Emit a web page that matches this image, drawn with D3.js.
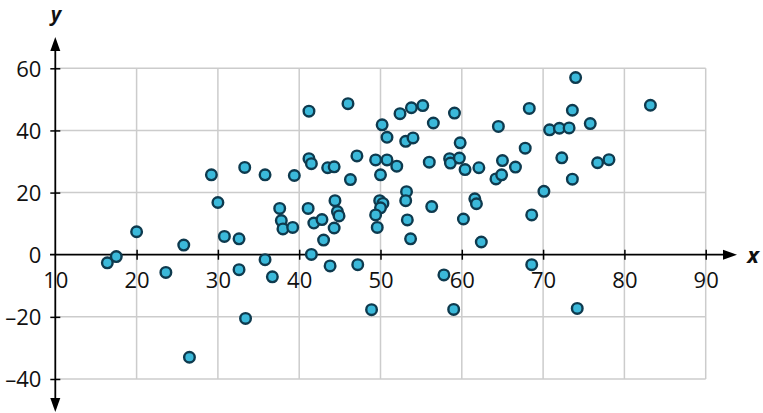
<!DOCTYPE html>
<html>
<head>
<meta charset="utf-8">
<script src="https://cdn.jsdelivr.net/npm/d3@7"></script>
<style>
  html, body { margin: 0; padding: 0; background: #fff; }
  svg { display: block; font-family: "Open Sans", "Noto Sans", sans-serif; }
</style>
</head>
<body>
<svg id="chart" width="763" height="413"></svg>
<script>
// ---- data ----
const xValues = [16.4,17.5,20.0,23.6,25.8,26.5,29.2,30.0,30.8,32.6,32.6,33.3,33.4,35.8,36.7,41.5,43.8,47.2,48.9,57.8,59.0,68.6,74.2,43.0,53.7,62.4,
  35.8,39.4,37.6,37.8,38.0,39.2,41.2,46.0,41.2,41.5,43.5,44.3,46.3,47.1,41.1,41.8,42.8,44.4,44.7,44.9,44.3,
  50.2,50.8,49.4,50.8,52.0,50.0,49.9,50.3,50.0,49.4,49.6,52.4,53.8,55.2,56.5,59.1,53.1,54.0,56.0,58.5,58.6,59.7,59.8,60.4,62.1,
  64.5,65.0,64.2,64.9,66.6,67.8,68.3,70.8,72.0,73.2,72.3,70.1,68.6,61.6,61.8,60.2,56.3,53.2,53.1,53.3,74.0,73.6,75.8,76.7,78.1,73.6,83.2];
const yValues = [-2.6,-0.6,7.4,-5.7,3.1,-33.0,25.7,16.8,5.9,5.1,-4.8,28.1,-20.5,-1.6,-7.1,0.1,-3.6,-3.2,-17.7,-6.5,-17.6,-3.2,-17.3,4.7,5.1,4.1,
  25.7,25.5,14.9,11.0,8.3,8.8,46.2,48.6,30.9,29.3,28.0,28.3,24.2,31.8,14.9,10.2,11.3,17.4,13.9,12.5,8.6,
  41.8,37.8,30.5,30.5,28.5,25.7,17.4,16.5,15.1,12.8,8.8,45.4,47.3,48.0,42.4,45.6,36.5,37.6,29.8,30.9,29.5,31.1,36.0,27.4,28.0,
  41.3,30.3,24.4,25.7,28.2,34.3,47.1,40.2,40.7,40.8,31.2,20.4,12.8,18.0,16.4,11.5,15.5,20.3,17.4,11.2,57.0,46.5,42.2,29.6,30.6,24.3,48.1];
const xTicks = [10,20,30,40,50,60,70,80,90];
const yTicks = [-40,-20,0,20,40,60];
const xTitle = "x";
const yTitle = "y";

// ---- drawing ----
const svg = d3.select("#chart");
const x = d3.scaleLinear().domain([10, 90]).range([55.3, 705.7]);
const y = d3.scaleLinear().domain([-40, 60]).range([379, 68.3]);
const x0 = x(10), y0 = y(0);
const fmt = v => v < 0 ? "\u2013" + Math.abs(v) : String(v);
const labelSize = 22;

// grid
const grid = svg.append("g").attr("stroke", "#cccccc").attr("stroke-width", 1.5);
grid.selectAll("line.v").data(xTicks.filter(d => d !== 10)).join("line")
  .attr("x1", d => x(d)).attr("x2", d => x(d)).attr("y1", y(60)).attr("y2", y(-40));
grid.selectAll("line.h").data(yTicks.filter(d => d !== 0)).join("line")
  .attr("x1", x(10)).attr("x2", x(90)).attr("y1", d => y(d)).attr("y2", d => y(d));

// x axis
const xAxis = svg.append("g").attr("transform", `translate(0,${y0})`)
  .call(d3.axisBottom(x).tickValues(xTicks).tickSize(5).tickFormat(fmt));
xAxis.select(".domain").remove();
xAxis.selectAll(".tick line").attr("y1", -5).attr("y2", 5).attr("stroke", "#000").attr("stroke-width", 1.5)
  .filter(d => d === 10).remove();
xAxis.selectAll(".tick text").attr("y", 33).attr("dy", 0)
  .style("font-size", labelSize + "px").style("font-family", "'Open Sans'").attr("fill", "#111");

// y axis
const yAxis = svg.append("g").attr("transform", `translate(${x0},0)`)
  .call(d3.axisLeft(y).tickValues(yTicks).tickSize(5).tickFormat(fmt));
yAxis.select(".domain").remove();
yAxis.selectAll(".tick line").attr("x1", -5).attr("x2", 5).attr("stroke", "#000").attr("stroke-width", 1.5)
  .filter(d => d === 0).remove();
yAxis.selectAll(".tick text").attr("x", -14).attr("dy", "0.36em")
  .style("font-size", labelSize + "px").style("font-family", "'Open Sans'").attr("fill", "#111");

// axis lines with arrows
svg.append("line").attr("x1", 50).attr("x2", 726).attr("y1", y0).attr("y2", y0)
  .attr("stroke", "#000").attr("stroke-width", 1.8);
svg.append("line").attr("x1", x0).attr("x2", x0).attr("y1", 48).attr("y2", 401)
  .attr("stroke", "#000").attr("stroke-width", 1.8);
svg.append("path").attr("d", `M737,${y0} L723,${y0-5} L723,${y0+5} Z`).attr("fill", "#000");
svg.append("path").attr("d", `M${x0},37 L${x0-5},51 L${x0+5},51 Z`).attr("fill", "#000");
svg.append("path").attr("d", `M${x0},412 L${x0-5},398 L${x0+5},398 Z`).attr("fill", "#000");

// titles
svg.append("text").attr("x", 753).attr("y", y0 + 8).attr("text-anchor", "middle")
  .style("font-size", "22px").attr("font-weight", "bold").attr("font-style", "italic").attr("fill", "#111").text(xTitle);
svg.append("text").attr("x", 56).attr("y", 21).attr("text-anchor", "middle")
  .style("font-size", "20px").attr("font-weight", "bold").attr("font-style", "italic").attr("fill", "#111").text(yTitle);

// points
const pts = xValues.map((v, i) => ({ x: v, y: yValues[i] }));
svg.append("g").selectAll("circle").data(pts).join("circle")
  .attr("cx", d => x(d.x)).attr("cy", d => y(d.y)).attr("r", 5.3)
  .attr("fill", "#3bb9da").attr("stroke", "#0e3a4e").attr("stroke-width", 2.4);
</script>
</body>
</html>
